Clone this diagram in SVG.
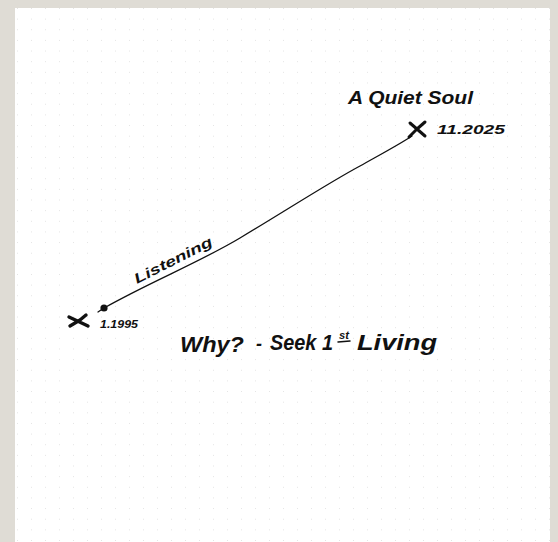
<svg xmlns="http://www.w3.org/2000/svg" width="558" height="542" viewBox="0 0 558 542">
  <defs>
    <pattern id="dots" x="17" y="8" width="14" height="10.64" patternUnits="userSpaceOnUse">
      <rect x="-0.6" y="-0.6" width="1.3" height="1.3" fill="#c9c9c9"/>
    </pattern>
    <style>
      .hw { font-family: "Liberation Sans", Arial, sans-serif; font-style: italic; font-weight: bold; fill: #111; }
      .stroke { fill: none; stroke: #111; stroke-linecap: round; stroke-linejoin: round; }
    </style>
  </defs>
  <rect x="0" y="0" width="558" height="542" fill="#dfdcd5"/>
  <rect x="15" y="8" width="535" height="534" fill="#ffffff"/>
  <rect x="15" y="8" width="535" height="534" fill="url(#dots)"/>

  <g id="connectors">
    <path class="stroke" stroke-width="1.3" d="M98,312 L104,308 C150,282 200,262 240,238 C290,208 330,182 360,166 C385,152 400,144 412,136"/>
  </g>

  <g id="start-point">
    <circle cx="104" cy="308" r="3.6" fill="#111"/>
    <path class="stroke" stroke-width="3.4" d="M69,317 L88,326 M70,326 L80,320 L86,315"/>
    <text class="hw" x="100" y="328" font-size="11" textLength="38" lengthAdjust="spacingAndGlyphs">1.1995</text>
  </g>

  <g id="end-point">
    <path class="stroke" stroke-width="3" d="M410,123 L425,136 M409,137 L417,129 L425,122"/>
    <text class="hw" x="437" y="134" font-size="12" textLength="68" lengthAdjust="spacingAndGlyphs">11.2025</text>
  </g>

  <g id="title">
    <text class="hw" x="348" y="104" font-size="18" textLength="125" lengthAdjust="spacingAndGlyphs">A Quiet Soul</text>
  </g>

  <g id="listening-label">
    <text class="hw" x="0" y="0" font-size="14" textLength="86" lengthAdjust="spacingAndGlyphs" transform="translate(137,284) rotate(-27)">Listening</text>
  </g>

  <g id="why-label">
    <text class="hw" x="180" y="352" font-size="22" textLength="64" lengthAdjust="spacingAndGlyphs">Why?</text>
    <text class="hw" x="256" y="350" font-size="18" textLength="6" lengthAdjust="spacingAndGlyphs">-</text>
    <text class="hw" x="270" y="350" font-size="22" textLength="63" lengthAdjust="spacingAndGlyphs">Seek 1</text>
    <text class="hw" x="339" y="339" font-size="10" textLength="10" lengthAdjust="spacingAndGlyphs">st</text>
    <path class="stroke" stroke-width="1.5" d="M338,342 L350,341"/>
    <text class="hw" x="357" y="350" font-size="22" textLength="80" lengthAdjust="spacingAndGlyphs">Living</text>
  </g>
</svg>
